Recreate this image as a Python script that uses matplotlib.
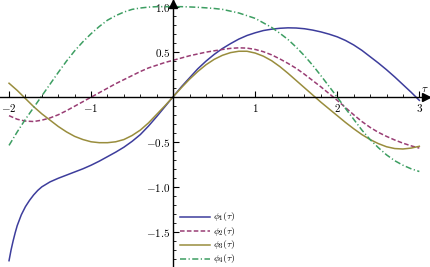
import numpy as np
import matplotlib
matplotlib.use("Agg")
import matplotlib.pyplot as plt
from matplotlib.ticker import MultipleLocator, FixedLocator

plt.rcParams['mathtext.fontset'] = 'cm'
plt.rcParams['font.family'] = 'DejaVu Serif'

tau = [-2.0, -1.9, -1.8, -1.7, -1.6, -1.5, -1.4, -1.3, -1.2, -1.1,
       -1.0, -0.9, -0.8, -0.7, -0.6, -0.5, -0.4, -0.3, -0.2, -0.1,
       0.0, 0.1, 0.2, 0.3, 0.4, 0.5, 0.6, 0.7, 0.8, 0.9,
       1.0, 1.1, 1.2, 1.3, 1.4, 1.5, 1.6, 1.7, 1.8, 1.9,
       2.0, 2.1, 2.2, 2.3, 2.4, 2.5, 2.6, 2.7, 2.8, 2.9, 3.0]

# phi1 is steep near tau = -2, so it is read at a few extra points there
tau1 = [-2.0, -1.975, -1.95, -1.925, -1.9, -1.85, -1.8, -1.75, -1.7, -1.65, -1.6,
        -1.5, -1.4, -1.3, -1.2, -1.1,
        -1.0, -0.9, -0.8, -0.7, -0.6, -0.5, -0.4, -0.3, -0.2, -0.1,
        0.0, 0.1, 0.2, 0.3, 0.4, 0.5, 0.6, 0.7, 0.8, 0.9,
        1.0, 1.1, 1.2, 1.3, 1.4, 1.5, 1.6, 1.7, 1.8, 1.9,
        2.0, 2.1, 2.2, 2.3, 2.4, 2.5, 2.6, 2.7, 2.8, 2.9, 3.0]

phi1 = [-1.82, -1.70, -1.60, -1.51, -1.43, -1.31, -1.22, -1.15, -1.09, -1.04, -1.00,
        -0.945, -0.905, -0.87, -0.835, -0.80,
        -0.76, -0.715, -0.665, -0.615, -0.56, -0.495, -0.42, -0.325, -0.22, -0.11,
        0.00, 0.11, 0.21, 0.31, 0.395, 0.47, 0.535, 0.59, 0.64, 0.68,
        0.71, 0.735, 0.75, 0.76, 0.765, 0.763, 0.755, 0.74, 0.72, 0.695,
        0.665, 0.625, 0.575, 0.515, 0.445, 0.375, 0.30, 0.22, 0.135, 0.05, -0.04]

phi2 = [-0.21, -0.25, -0.27, -0.275, -0.26, -0.235, -0.20, -0.155, -0.105, -0.055,
        -0.005, 0.045, 0.095, 0.145, 0.19, 0.235, 0.28, 0.32, 0.35, 0.38,
        0.405, 0.43, 0.455, 0.475, 0.495, 0.51, 0.525, 0.537, 0.543, 0.54,
        0.525, 0.50, 0.465, 0.42, 0.37, 0.315, 0.25, 0.18, 0.11, 0.035,
        -0.04, -0.12, -0.20, -0.275, -0.34, -0.395, -0.44, -0.48, -0.515, -0.545, -0.57]

phi3 = [0.15, 0.07, -0.02, -0.11, -0.19, -0.26, -0.33, -0.39, -0.44, -0.475,
        -0.50, -0.51, -0.51, -0.50, -0.475, -0.43, -0.37, -0.29, -0.195, -0.10,
        0.00, 0.10, 0.195, 0.28, 0.355, 0.415, 0.46, 0.49, 0.505, 0.505,
        0.485, 0.45, 0.40, 0.335, 0.26, 0.18, 0.10, 0.02, -0.06, -0.135,
        -0.21, -0.285, -0.355, -0.42, -0.475, -0.52, -0.555, -0.575, -0.58, -0.57, -0.55]

phi4 = [-0.54, -0.39, -0.25, -0.12, 0.01, 0.14, 0.27, 0.395, 0.51, 0.61,
        0.70, 0.78, 0.85, 0.90, 0.94, 0.97, 0.985, 0.995, 1.00, 1.00,
        1.00, 1.00, 0.997, 0.993, 0.987, 0.98, 0.97, 0.95, 0.93, 0.90,
        0.87, 0.82, 0.77, 0.705, 0.635, 0.55, 0.455, 0.35, 0.235, 0.115,
        -0.005, -0.13, -0.25, -0.37, -0.475, -0.565, -0.645, -0.71, -0.76, -0.80, -0.83]

labels = [r'$\phi_1(\tau)$', r'$\phi_2(\tau)$', r'$\phi_3(\tau)$', r'$\phi_4(\tau)$']
x_major = [-2, -1, 1, 2, 3]
x_major_labels = [r'$-2$', r'$-1$', r'$1$', r'$2$', r'$3$']
y_major = [-1.5, -1.0, -0.5, 0.5, 1.0]
y_major_labels = [r'$-1.5$', r'$-1.0$', r'$-0.5$', r'$0.5$', r'$1.0$']

colors = ['#3d3d9c', '#993d74', '#998d3d', '#3d9e62']
styles = [dict(), dict(dashes=(3, 1.5)), dict(), dict(dashes=(4, 1.6, 0.8, 1.6))]

fig = plt.figure(figsize=(4.30, 2.67), dpi=100)
ax = fig.add_axes([0, 0, 1, 1])
ax.set_xlim(-2.11, 3.13)
ax.set_ylim(-1.89, 1.074)
ax.patch.set_alpha(0)

lw = 1.1
series = [(tau1, phi1), (tau, phi2), (tau, phi3), (tau, phi4)]
for (xs, ys), c, st in zip(series, colors, styles):
    ax.plot(xs, ys, color=c, lw=lw, solid_joinstyle='round', **st)

for s in ['top', 'right']:
    ax.spines[s].set_visible(False)
ax.spines['left'].set_position(('data', 0))
ax.spines['bottom'].set_position(('data', 0))
for s in ['left', 'bottom']:
    ax.spines[s].set_linewidth(1.0)
    ax.spines[s].set_color('black')

ax.xaxis.set_major_locator(FixedLocator(x_major))
ax.set_xticklabels(x_major_labels)
ax.xaxis.set_minor_locator(MultipleLocator(0.2))
ax.yaxis.set_major_locator(FixedLocator(y_major))
ax.set_yticklabels(y_major_labels)
ax.yaxis.set_minor_locator(MultipleLocator(0.1))
ax.tick_params(axis='both', which='major', direction='in', length=4, width=0.8,
               labelsize=8, pad=2, color='black')
ax.tick_params(axis='both', which='minor', direction='in', length=2.2, width=0.6,
               color='black')
ax.tick_params(axis='x', which='major', pad=4)

# arrows at axis ends
ax.plot(3.08, 0, marker='>', color='black', markersize=6, clip_on=False)
ax.plot(0, 1.03, marker='^', color='black', markersize=6, clip_on=False)
ax.text(3.07, 0.03, r'$\tau$', fontsize=8, ha='center', va='bottom')

# legend (lower middle, no frame)
rows_y = [0.1873, 0.1348, 0.0824, 0.030]
for lab, c, st, yy in zip(labels, colors, styles, rows_y):
    ax.plot([0.4186, 0.488], [yy, yy], transform=ax.transAxes, color=c, lw=lw,
            clip_on=False, **st)
    ax.text(0.495, yy, lab, transform=ax.transAxes, fontsize=7, ha='left', va='center')

fig.savefig('out.png', dpi=100)
